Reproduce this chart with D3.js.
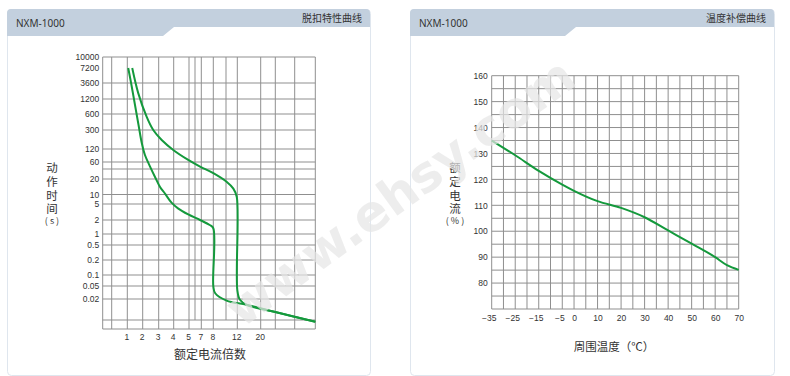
<!DOCTYPE html>
<html>
<head>
<meta charset="utf-8">
<script src="https://cdn.jsdelivr.net/npm/d3@7"></script>
<style>
  body { margin: 0; background: #fff; }
  text { font-family: "Noto Sans", "Noto Sans CJK SC", sans-serif; fill: #333; }
  .tick text { font-family: "Liberation Sans", Arial, sans-serif; font-size: 8.5px; fill: #333; }
  .cjk { font-family: "Noto Sans CJK SC", sans-serif; fill: #333; }
</style>
</head>
<body>
<div id="chart"></div>
<script>
// ---- data: trip characteristic (left) ----
const tripXGrid = [0, 0.5, 1, 2, 3, 4, 5, 6, 7, 8, 10, 12, 20, 30, 50, 100];
const tripXLabels = [1, 2, 3, 4, 5, 7, 8, 12, 20];
const tripYGrid = [10000, 7200, 3600, 1200, 600, 300, 120, 60, 40, 20, 10, 5, 2, 1, 0.5, 0.2, 0.1, 0.05, 0.02, 0.01, 0.005];
const tripYLabels = [10000, 7200, 3600, 1200, 600, 300, 120, 60, 20, 10, 5, 2, 1, 0.5, 0.2, 0.1, 0.05, 0.02];
// [current multiple, seconds]
const tripLow = [
  [1.06, 7200], [1.27, 3150], [1.5, 910], [1.73, 372], [1.94, 160], [2.14, 87],
  [2.46, 46], [2.77, 23], [3.09, 14], [3.42, 10.4], [3.87, 5.4], [4.28, 3.9],
  [4.95, 2.75], [6.8, 2], [7.7, 1.56], [8, 1.33], [8, 0.05], [8.3, 0.03],
  [10.1, 0.019], [15.2, 0.0165], [30, 0.013], [100, 0.0088]
];
const tripHigh = [
  [1.32, 7200], [1.71, 1800], [2.25, 530], [2.66, 300], [3.2, 185], [3.97, 114],
  [4.95, 67], [6.8, 46], [8, 30], [10.1, 17.7], [11.3, 13], [11.9, 8.5],
  [12, 0.038], [12.9, 0.0195], [15.2, 0.0165], [30, 0.013], [100, 0.0088]
];

// ---- data: temperature compensation (right) ----
const tempXLabels = [-35, -25, -15, -5, 0, 10, 20, 30, 40, 50, 60, 70];
const tempYLabels = [80, 90, 100, 110, 120, 130, 140, 150, 160];
const tempCurve = [
  [-35, 135], [-25, 129.3], [-15, 123.3], [-5, 118], [0, 115.6], [10, 111.6],
  [20, 109], [30, 105.4], [40, 100.3], [50, 95.2], [60, 90], [65, 86.9], [70, 85.1]
];

// layout of the hand-drawn grid of the left chart (px from plot edge)
const tripColPx = [0, 9, 24.6, 40, 56, 71, 86.3, 92.3, 98.6, 110.6, 123.3, 134.6, 158, 172.6, 192, 212.6];
const tripRowPx = [0, 11, 26, 42, 57, 73, 92, 105, 112, 122, 137.5, 147, 163, 177, 188, 203, 218, 229, 242, 263, 272];
const shortCols = [6, 10];

const green = "#14993c";
const gridColor = "#8f8f8f";

const svg = d3.select("#chart").append("svg")
    .attr("width", 790)
    .attr("height", 376);

// panel frame with notched header
function panel(x0, x1, notch, title) {
  svg.append("rect")
      .attr("x", x0 + 0.5).attr("y", 9.5)
      .attr("width", x1 - x0).attr("height", 366)
      .attr("rx", 4)
      .attr("fill", "#fff")
      .attr("stroke", "#dfe6ee");
  svg.append("path")
      .attr("d", `M${x0},36 L${x0},13 Q${x0},9 ${x0 + 4},9 L${x1 - 4},9 Q${x1},9 ${x1},13 L${x1},27 L${notch + 11},27 L${notch},36 Z`)
      .attr("fill", "#c3d0de");
  svg.append("text")
      .attr("x", x0 + 9).attr("y", 26.5)
      .style("font-size", "10px")
      .text("NXM-1000");
  svg.append("text")
      .attr("class", "cjk")
      .attr("x", x1 - 8).attr("y", 22)
      .attr("text-anchor", "end")
      .style("font-size", "10px")
      .text(title);
}
panel(7, 370, 163, "脱扣特性曲线");
panel(410, 774, 565, "温度补偿曲线");

// vertical axis title: upright CJK column plus unit underneath
function vTitle(x, top, chars, unit) {
  svg.append("text").attr("class", "cjk")
      .attr("x", x).attr("y", top)
      .style("writing-mode", "vertical-rl")
      .style("text-orientation", "upright")
      .style("font-size", "11.5px")
      .style("letter-spacing", "2.2px")
      .text(chars);
  svg.append("text").attr("class", "cjk")
      .attr("x", x).attr("y", top + chars.length * 13.7 + 7)
      .attr("text-anchor", "middle")
      .style("font-size", "9px")
      .text(unit);
}

// ================= left chart =================
const L = {left: 102.7, top: 57, right: 315.3, bottom: 329};
const lx = d3.scaleLinear().domain(tripXGrid).range(tripColPx.map(d => L.left + d));
const ly = d3.scaleLinear().domain(tripYGrid.map(Math.log10)).range(tripRowPx.map(d => L.top + d));
const yL = v => ly(Math.log10(v));

const lg = svg.append("g");
lg.selectAll(".vg").data(tripXGrid).enter().append("line")
    .attr("x1", d => lx(d)).attr("x2", d => lx(d))
    .attr("y1", L.top)
    .attr("y2", d => shortCols.includes(d) ? yL(0.01) : L.bottom)
    .attr("stroke", gridColor);
lg.selectAll(".hg").data(tripYGrid.filter(d => d !== 7200)).enter().append("line")
    .attr("x1", L.left).attr("x2", L.right)
    .attr("y1", d => yL(d)).attr("y2", d => yL(d))
    .attr("stroke", gridColor);

const lyAxis = svg.append("g")
    .attr("transform", `translate(${L.left},0)`)
    .call(d3.axisLeft(ly)
        .tickValues(tripYLabels.map(Math.log10))
        .tickFormat((d, i) => tripYLabels[i])
        .tickSize(0).tickPadding(3.5));
lyAxis.select(".domain").remove();

const lxAxis = svg.append("g")
    .attr("transform", `translate(-1,${L.bottom})`)
    .call(d3.axisBottom(lx).tickValues(tripXLabels).tickSize(0).tickPadding(5));
lxAxis.select(".domain").remove();

const tripLine = d3.line()
    .x(d => lx(d[0]))
    .y(d => yL(d[1]))
    .curve(d3.curveCatmullRom.alpha(0.5));
[tripLow, tripHigh].forEach(s => {
  svg.append("path").datum(s)
      .attr("fill", "none")
      .attr("stroke", green)
      .attr("stroke-width", 2)
      .attr("d", tripLine);
});

vTitle(52, 162, "动作时间", "( s )");
svg.append("text").attr("class", "cjk")
    .attr("x", 210).attr("y", 359)
    .attr("text-anchor", "middle").style("font-size", "12px")
    .text("额定电流倍数");

// ================= right chart =================
const R = {left: 491.7, top: 75.7, right: 738.7, bottom: 309};
const rx = d3.scaleLinear().domain([-35, 70]).range([R.left, R.right]);
const ry = d3.scaleLinear().domain([70, 160]).range([R.bottom, R.top]);

const rg = svg.append("g");
rg.selectAll(".vg").data(d3.range(-35, 71, 5)).enter().append("line")
    .attr("x1", d => rx(d)).attr("x2", d => rx(d))
    .attr("y1", R.top).attr("y2", R.bottom)
    .attr("stroke", gridColor);
rg.selectAll(".hg").data(d3.range(70, 161, 5)).enter().append("line")
    .attr("x1", R.left).attr("x2", R.right)
    .attr("y1", d => ry(d)).attr("y2", d => ry(d))
    .attr("stroke", gridColor);

const ryAxis = svg.append("g")
    .attr("transform", `translate(${R.left},0)`)
    .call(d3.axisLeft(ry).tickValues(tempYLabels).tickSize(0).tickPadding(4));
ryAxis.select(".domain").remove();

const rxAxis = svg.append("g")
    .attr("transform", `translate(0,${R.bottom})`)
    .call(d3.axisBottom(rx).tickValues(tempXLabels).tickSize(0).tickPadding(6));
rxAxis.select(".domain").remove();
rxAxis.selectAll(".tick text").attr("dx", d => d < 0 ? -3 : 0);

svg.append("path").datum(tempCurve)
    .attr("fill", "none")
    .attr("stroke", green)
    .attr("stroke-width", 2)
    .attr("d", d3.line()
        .x(d => rx(d[0]))
        .y(d => ry(d[1]))
        .curve(d3.curveMonotoneX));

vTitle(455, 162, "额定电流", "( % )");
svg.append("text").attr("class", "cjk")
    .attr("x", 614).attr("y", 351)
    .attr("text-anchor", "middle").style("font-size", "11.5px")
    .text("周围温度（℃）");

// watermark
svg.append("text")
    .attr("transform", "translate(400,192) rotate(-36)")
    .attr("text-anchor", "middle")
    .attr("dy", "0.35em")
    .style("font-family", "'DejaVu Sans', sans-serif")
    .style("font-size", "50px")
    .style("font-weight", "bold")
    .style("fill", "#e6e6e6")
    .style("opacity", 0.7)
    .text("www.ehsy.com");
</script>
</body>
</html>
